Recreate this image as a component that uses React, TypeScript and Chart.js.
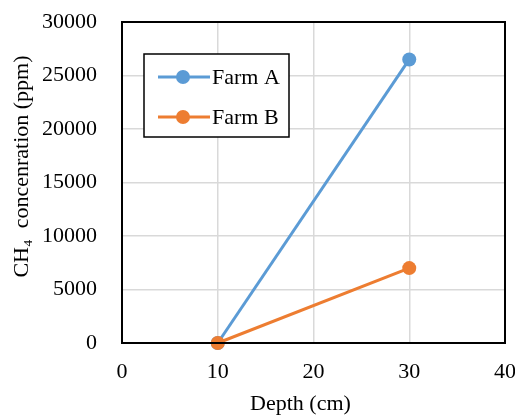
import React, { useEffect, useRef } from "react";
import { Chart, registerables } from "chart.js";

Chart.register(...registerables);

const depths = [10, 30];
const farmA = [0, 26500];
const farmB = [0, 7000];
const seriesNames = ["Farm A", "Farm B"];
const seriesColors = ["#5B9BD5", "#ED7D31"];
const xTitle = "Depth (cm)";
const yTitle = "CH\u2084  concenration (ppm)";

const FONT = "'Liberation Serif', 'Times New Roman', serif";
const FS = 22;

const boxLegend = {
  id: "boxLegend",
  afterDraw(chart: any) {
    const ctx = chart.ctx;
    const a = chart.chartArea;
    ctx.save();
    ctx.strokeStyle = "#000";
    ctx.lineWidth = 2;
    ctx.strokeRect(a.left, a.top, a.right - a.left, a.bottom - a.top);

    // axis titles
    ctx.fillStyle = "#000";
    ctx.font = `${FS}px ${FONT}`;
    ctx.textAlign = "center";
    ctx.textBaseline = "middle";
    ctx.fillText(xTitle, (a.left + a.right) / 2 - 13, a.bottom + 61);
    ctx.save();
    ctx.translate(22, (a.top + a.bottom) / 2 - 16);
    ctx.rotate(-Math.PI / 2);
    ctx.fillText(yTitle, 0, 0);
    ctx.restore();

    // legend box
    const bx = a.left + 22;
    const by = a.top + 32;
    const bw = 145;
    const bh = 83;
    ctx.fillStyle = "#fff";
    ctx.fillRect(bx, by, bw, bh);
    ctx.lineWidth = 1.5;
    ctx.strokeStyle = "#000";
    ctx.strokeRect(bx, by, bw, bh);
    ctx.textAlign = "left";
    chart.data.datasets.forEach((ds: any, i: number) => {
      const y = by + 23 + i * 40;
      ctx.strokeStyle = ds.borderColor;
      ctx.lineWidth = 3;
      ctx.beginPath();
      ctx.moveTo(bx + 14, y);
      ctx.lineTo(bx + 66, y);
      ctx.stroke();
      ctx.fillStyle = ds.borderColor;
      ctx.beginPath();
      ctx.arc(bx + 39, y, 7, 0, Math.PI * 2);
      ctx.fill();
      ctx.fillStyle = "#000";
      ctx.fillText(ds.label, bx + 68, y + 1);
    });
    ctx.restore();
  },
};

export default function App() {
  const ref = useRef<HTMLCanvasElement>(null);
  useEffect(() => {
    if (!ref.current) return;
    const mk = (vals: number[]) => depths.map((d, i) => ({ x: d, y: vals[i] }));
    const ds = (i: number, vals: number[]) => ({
      label: seriesNames[i],
      data: mk(vals),
      borderColor: seriesColors[i],
      backgroundColor: seriesColors[i],
      borderWidth: 3,
      pointRadius: 7,
      pointHoverRadius: 7,
      pointBorderWidth: 0,
      order: 1 - i,
      clip: false,
    });
    const chart = new Chart(ref.current, {
      type: "line",
      data: { datasets: [ds(0, farmA), ds(1, farmB)] },
      options: {
        animation: false,
        responsive: false,
        layout: { padding: { top: 22, right: 10, left: 0, bottom: 0 } },
        plugins: { legend: { display: false }, tooltip: { enabled: false } },
        scales: {
          x: {
            type: "linear",
            min: 0,
            max: 40,
            ticks: {
              stepSize: 10,
              color: "#000",
              font: { family: FONT, size: FS },
              padding: 16,
              callback: (v: any) => String(v),
            },
            grid: { color: "#d9d9d9", lineWidth: 1.5, drawTicks: false },
            border: { color: "#000", width: 2 },
            afterFit(scale: any) {
              scale.height = 74;
              scale.paddingLeft = 0;
              scale.paddingRight = 0;
            },
          },
          y: {
            min: 0,
            max: 30000,
            ticks: {
              stepSize: 5000,
              color: "#000",
              font: { family: FONT, size: FS },
              padding: 25,
              callback: (v: any) => String(v),
            },
            grid: { color: "#d9d9d9", lineWidth: 1.5, drawTicks: false },
            border: { color: "#000", width: 2 },
            afterFit(scale: any) {
              scale.width = 122;
              scale.paddingTop = 0;
              scale.paddingBottom = 0;
            },
          },
        },
      },
      plugins: [boxLegend],
    } as any);
    return () => chart.destroy();
  }, []);
  return (
    <div style={{ position: "fixed", left: 0, top: 0, width: 515, height: 417, background: "#fff" }}>
      <canvas ref={ref} width={515} height={417} />
    </div>
  );
}
